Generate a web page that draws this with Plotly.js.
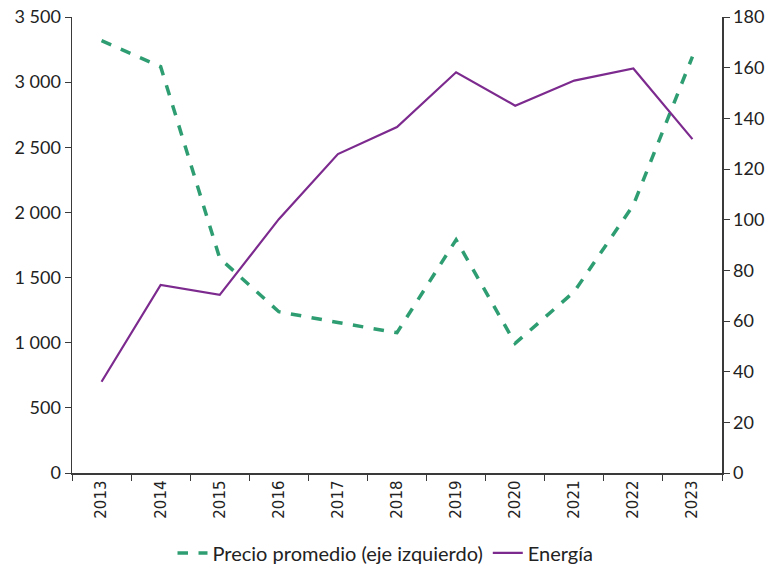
<!DOCTYPE html>
<html>
<head>
<meta charset="utf-8">
<script src="https://cdn.plot.ly/plotly-3.0.1.min.js"></script>
<style>html,body{margin:0;padding:0;background:#fff;}#chart{width:771px;height:570px;}</style>
</head>
<body>
<div id="chart"></div>
<script>
const years = ["2013","2014","2015","2016","2017","2018","2019","2020","2021","2022","2023"];
const precioPromedio = [3318, 3119, 1648, 1238, 1155, 1077, 1790, 995, 1392, 2057, 3196];
const energia = [36.0, 74.2, 70.3, 100.2, 125.9, 136.6, 158.2, 145.0, 154.9, 159.7, 131.8];
const precioName = "Precio promedio (eje izquierdo)";
const energiaName = "Energía";

const axisColor = "#3a3a3a";
const tickFont = {family: "Lato, Open Sans, sans-serif", size: 18, color: "#222"};

const traces = [
  {
    x: years, y: precioPromedio, name: precioName, type: "scatter", mode: "lines",
    line: {color: "#2e9e72", width: 3.5, dash: "dash"}, yaxis: "y"
  },
  {
    x: years, y: energia, name: energiaName, type: "scatter", mode: "lines",
    line: {color: "#7c2a8e", width: 2.2}, yaxis: "y2"
  }
];

const layout = {
  width: 771, height: 570,
  margin: {l: 72, r: 49, t: 17, b: 97},
  paper_bgcolor: "#fff", plot_bgcolor: "#fff",
  separators: ", ",
  showlegend: true,
  legend: {
    orientation: "h", x: 0.5, xanchor: "center", xref: "container",
    y: 0.03, yanchor: "middle", yref: "container",
    font: {family: "Lato, Open Sans, sans-serif", size: 20, color: "#222"},
    traceorder: "normal"
  },
  xaxis: {
    type: "category", range: [-0.5, 10.5], tickson: "boundaries", ticks: "outside", ticklen: 6,
    tickcolor: axisColor, showline: true, linecolor: axisColor, linewidth: 1.5,
    showgrid: false, zeroline: false, tickangle: -90, automargin: false,
    tickfont: {family: "DejaVu Sans, Verdana, sans-serif", size: 15, color: "#222"}
  },
  yaxis: {
    range: [0, 3500], dtick: 500, tickformat: ",d", ticks: "outside", ticklen: 6,
    tickcolor: axisColor, showline: true, linecolor: axisColor, linewidth: 1.5,
    showgrid: false, zeroline: false, tickfont: tickFont, automargin: false
  },
  yaxis2: {
    range: [0, 180], dtick: 20, overlaying: "y", side: "right", ticks: "outside", ticklen: 6,
    tickcolor: axisColor, showline: true, linecolor: axisColor, linewidth: 1.5,
    showgrid: false, zeroline: false, tickfont: tickFont, automargin: false
  }
};

Plotly.newPlot("chart", traces, layout, {displayModeBar: false, staticPlot: true});
</script>
</body>
</html>
